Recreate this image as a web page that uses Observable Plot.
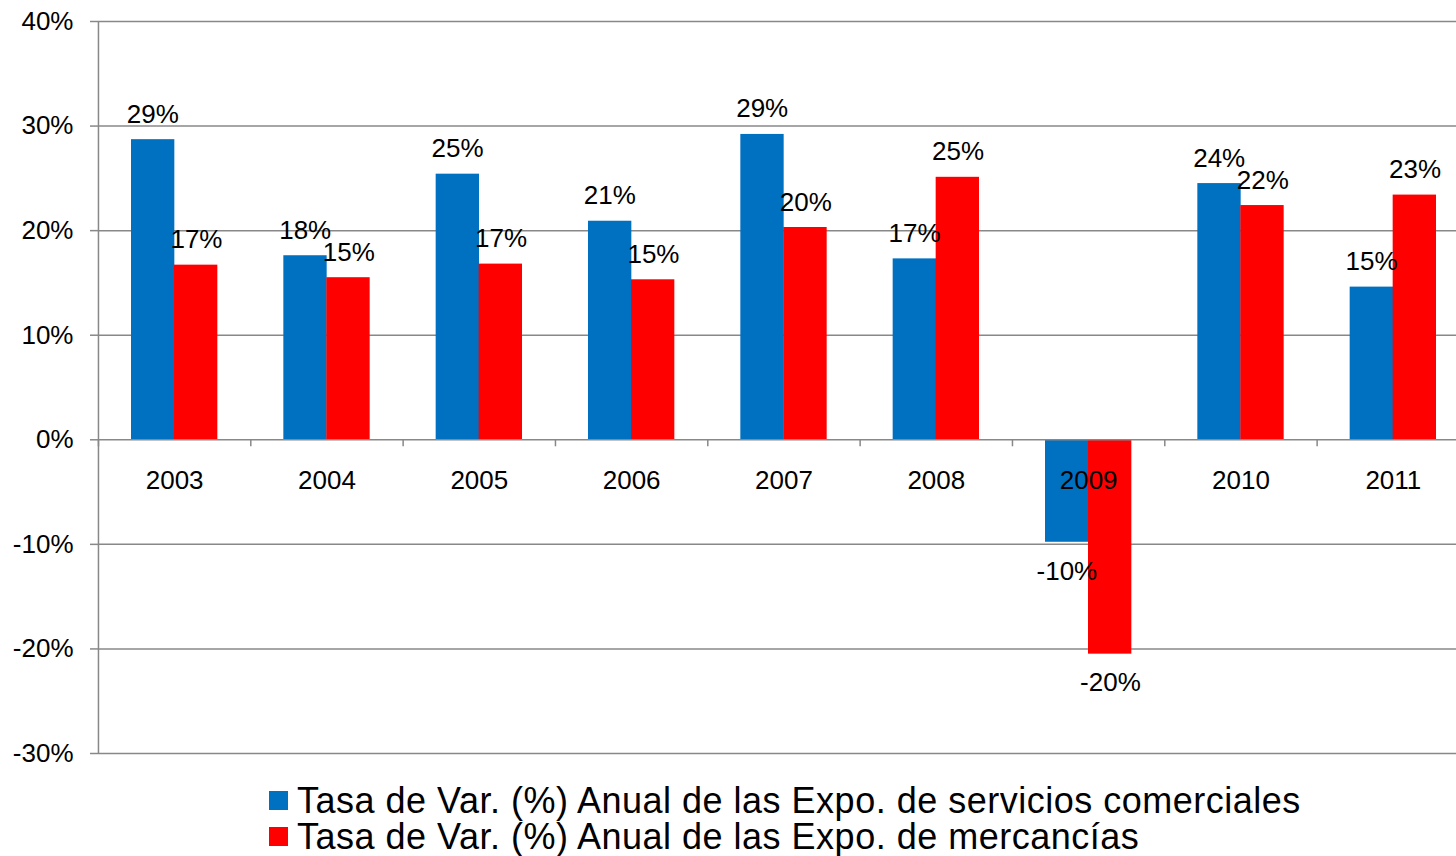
<!DOCTYPE html>
<html><head><meta charset="utf-8">
<script src="https://cdn.jsdelivr.net/npm/d3@7"></script>
<script src="https://cdn.jsdelivr.net/npm/@observablehq/plot@0.6"></script>
<style>
body{margin:0;background:#fff;font-family:"Liberation Sans",Arial,sans-serif;}
#wrap{position:relative;width:1456px;height:856px;overflow:hidden;background:#fff;}
.legend{position:absolute;left:269px;top:783px;font-size:36px;letter-spacing:0.5px;line-height:36px;color:#000;white-space:nowrap;}
.item{position:relative;padding-left:28px;}
.sw{position:absolute;left:0;top:8px;width:19px;height:19px;}
</style></head><body>
<div id="wrap"><div id="chart"></div>
<div class="legend" id="legend"></div></div>
<script>
const years = ["2003","2004","2005","2006","2007","2008","2009","2010","2011"];
const servicios = [28.7, 17.6, 25.4, 20.9, 29.2, 17.3, -9.8, 24.5, 14.6];
const mercancias = [16.7, 15.5, 16.8, 15.3, 20.3, 25.1, -20.5, 22.4, 23.4];
const servLabels = ["29%","18%","25%","21%","29%","17%","-10%","24%","15%"];
const mercLabels = ["17%","15%","17%","15%","20%","25%","-20%","22%","23%"];
const yTicks = [-30, -20, -10, 0, 10, 20, 30, 40];
const seriesNames = ["Tasa de Var. (%) Anual de las Expo. de servicios comerciales", "Tasa de Var. (%) Anual de las Expo. de mercancías"];
const colors = ["#0070C0", "#FF0000"];

const servRows = years.map((year, i) => ({year, value: servicios[i], label: servLabels[i]}));
const mercRows = years.map((year, i) => ({year, value: mercancias[i], label: mercLabels[i]}));

const grid = "#888888";
const font = "'Liberation Sans', Arial, sans-serif";

const chart = Plot.plot({
  width: 1456, height: 775,
  marginLeft: 98, marginRight: 0, marginTop: 21, marginBottom: 22,
  style: {fontFamily: font, fontSize: "26px", background: "white", color: "black"},
  x: {type: "band", domain: years, range: [98, 1469], padding: 0, round: false, axis: null},
  y: {domain: [-30, 40], axis: null},
  marks: [
    Plot.ruleY(yTicks.filter(d => d !== 0), {stroke: grid, strokeWidth: 1.5}),
    Plot.axisY(yTicks, {label: null, tickSize: 8, tickPadding: 17, stroke: grid, strokeWidth: 1.5, fill: "black", fontSize: 26, tickFormat: d => d + "%"}),
    Plot.barY(servRows, {x: "year", y: "value", fill: colors[0], insetLeft: 33, insetRight: 76}),
    Plot.barY(mercRows, {x: "year", y: "value", fill: colors[1], insetLeft: 76, insetRight: 33}),
    Plot.ruleY([0], {stroke: grid, strokeWidth: 1.5}),
    Plot.ruleX([years[0]], {stroke: grid, strokeWidth: 1.5, dx: -76.2}),
    Plot.ruleX(years, {y1: 0, y2: 0, insetBottom: -7, dx: -76.2, stroke: grid, strokeWidth: 1.5}),
    Plot.text(years, {x: d => d, y: 0, text: d => d, lineAnchor: "bottom", dy: 49, fontSize: 26, fill: "black"}),
    Plot.text(servRows.filter(d => d.value >= 0), {x: "year", y: "value", text: "label", dx: -21.8, dy: -17, lineAnchor: "bottom", fontSize: 26, fill: "black"}),
    Plot.text(servRows.filter(d => d.value < 0), {x: "year", y: "value", text: "label", dx: -21.8, dy: 38, lineAnchor: "bottom", fontSize: 26, fill: "black"}),
    Plot.text(mercRows.filter(d => d.value >= 0), {x: "year", y: "value", text: "label", dx: 21.8, dy: -17, lineAnchor: "bottom", fontSize: 26, fill: "black"}),
    Plot.text(mercRows.filter(d => d.value < 0), {x: "year", y: "value", text: "label", dx: 21.8, dy: 37, lineAnchor: "bottom", fontSize: 26, fill: "black"})
  ]
});
document.getElementById("chart").appendChild(chart);

const legend = document.getElementById("legend");
seriesNames.forEach((name, i) => {
  const item = document.createElement("div");
  item.className = "item";
  const sw = document.createElement("span");
  sw.className = "sw";
  sw.style.background = colors[i];
  item.appendChild(sw);
  item.appendChild(document.createTextNode(name));
  legend.appendChild(item);
});
</script>
</body></html>
